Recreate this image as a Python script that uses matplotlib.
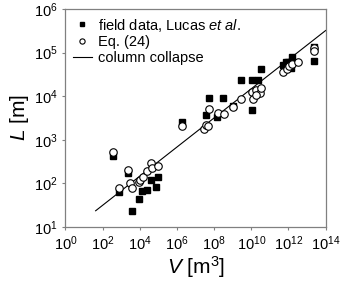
import matplotlib
matplotlib.use("Agg")
import matplotlib.pyplot as plt

plt.rcParams["font.family"] = ["Liberation Sans", "DejaVu Sans"]
plt.rcParams["mathtext.fontset"] = "custom"
plt.rcParams["mathtext.rm"] = "Liberation Sans"
plt.rcParams["mathtext.it"] = "Liberation Sans:italic"

# field data (Lucas et al.)
field_V = [3.7e2, 2.4e3, 8e2, 3.6e3, 9.3e3, 1.3e4, 2.3e4, 3.8e4, 7.9e4, 9.8e4,
           1.9e6, 3.5e7, 1.5e8, 5.5e7, 2.9e8, 2.8e9, 1.05e10, 2.2e10, 3.5e10,
           1.1e10, 9.8e8, 5.2e11, 7.2e11, 1.6e12, 1.35e12, 2.3e13, 2.3e13, 1.0e12]
field_L = [430, 170, 62, 23, 44, 68, 71, 120, 81, 140,
           2600, 3700, 3400, 9300, 9300, 23000, 23000, 23000, 42000,
           4800, 5800, 52000, 62000, 81000, 44000, 65000, 135000, 62000]

# Eq. (24)
eq_V = [3.7e2, 2.4e3, 8e2, 3e3, 4e3, 9.3e3, 1e4, 1.55e4, 2.5e4, 3.8e4, 4.4e4, 9.1e4,
        1.9e6, 3e7, 3.5e7, 4.8e7, 5.5e7, 1.66e8, 3.4e8, 9.8e8, 2.8e9, 1.05e10,
        1.2e10, 1.9e10, 2.9e10, 3.5e10, 1.8e10, 5.2e11, 7.9e11, 1.1e12, 1.6e12,
        3.1e12, 2.3e13, 2.3e13]
eq_L = [510, 200, 79, 100, 79, 110, 120, 140, 190, 300, 220, 250,
        2100, 1800, 2200, 2100, 5000, 4100, 3800, 5600, 8500, 12600,
        8700, 13800, 12000, 15000, 10700, 36000, 42000, 48000, 54000,
        62000, 126000, 110000]

# column collapse line (end points)
line_V = [4.2e1, 1e14]
line_L = [23.5, 3.2e5]

fig = plt.figure(figsize=(3.41, 2.88), dpi=100)
ax = fig.add_axes([0.192, 0.212, 0.763, 0.757])

ax.plot(field_V, field_L, "s", color="black", markersize=5.0, zorder=2,
        label="field data, Lucas $et\\ al.$")
ax.plot(eq_V, eq_L, "o", markerfacecolor="white", markeredgecolor="black",
        markersize=5.4, markeredgewidth=0.8, zorder=3, label="Eq. (24)")
ax.plot(line_V, line_L, "-", color="black", linewidth=0.8, zorder=1,
        label="column collapse")

ax.set_xscale("log")
ax.set_yscale("log")
ax.set_xlim(1, 1e14)
ax.set_ylim(10, 1e6)
ax.set_xticks([10.0**k for k in range(0, 15, 2)])
ax.set_yticks([10.0**k for k in range(1, 7)])
ax.minorticks_off()

for s in ax.spines.values():
    s.set_color("#808080")
    s.set_linewidth(0.9)
ax.tick_params(colors="#808080", labelcolor="black", length=2.5, width=0.8,
               labelsize=10.5, pad=3)

ax.set_xlabel("$V$ [m$^3$]", fontsize=15, labelpad=1)
ax.set_ylabel("$L$ [m]", fontsize=15, labelpad=2)

ax.legend(loc="upper left", bbox_to_anchor=(0.029, 0.965), frameon=False,
          fontsize=10.5, handlelength=1.3, handletextpad=0.4, borderaxespad=0,
          labelspacing=0.12, borderpad=0, markerscale=0.7)

fig.savefig("out.png", dpi=100)
